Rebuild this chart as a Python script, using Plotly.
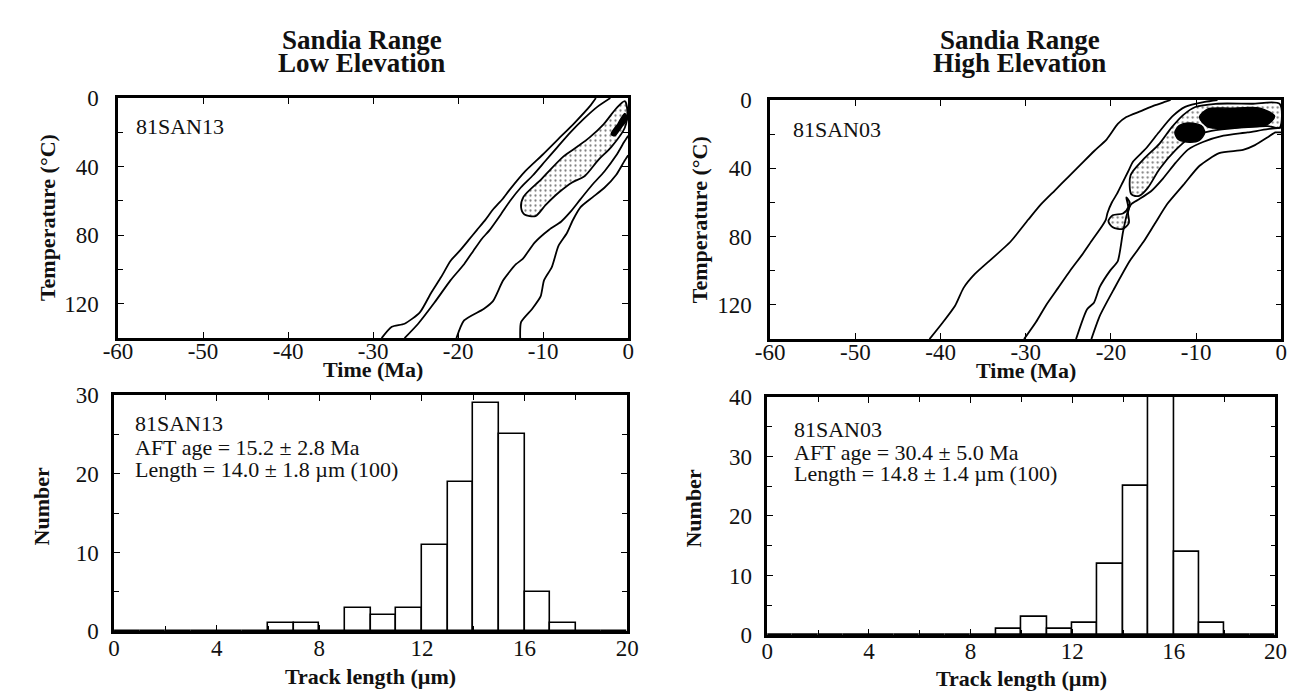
import plotly.graph_objects as go

# ---------------- data: 81SAN13 (low elevation) t-T envelopes ----------------
low_a_time = [-29.0, -27.8, -26.3, -24.5, -23.2, -22.0, -20.9, -19.8, -18.8, -17.8, -16.8, -15.9,
              -14.8, -14.0, -12.1, -10.1, -8.2, -6.3, -4.4, -3.8]
low_a_temp = [140, 133.4, 131.6, 125, 113.8, 104.4, 95, 89, 83, 77, 71, 65,
              59, 53.8, 42.6, 33.2, 23.8, 14.4, 4.1, 0]
low_b_time = [-26.3, -24.7, -22.8, -20.9, -19.3, -18.2, -17.2, -16.3, -15.0, -13.9, -12.6, -11.2,
              -9.8, -8.4, -6.8, -5.2, -3.6, -2.1]
low_b_temp = [140, 131.6, 119.4, 106.3, 96.9, 89, 82, 77, 68, 60, 52, 45,
              37, 29, 20, 12, 5, 0]
low_c_time = [-20.2, -19.3, -17.0, -15.9, -14.7, -13.2, -12.4, -11.0, -9.3, -7.9, -6.8, -5.6,
              -4.2, -2.8, -1.4, -0.5, 0.0]
low_c_temp = [140, 129.7, 123, 118.4, 106.3, 96.9, 93.8, 84.3, 76.8, 72.1, 66.4, 58.9,
              50.4, 42.8, 33.4, 25.8, 22]
low_d_time = [-12.7, -12.6, -11.3, -10.3, -9.9, -9.0, -8.2, -7.2, -6.5, -5.6, -4.2, -2.8,
              -1.4, -0.5, 0.0]
low_d_temp = [140, 130.7, 123, 115.7, 106.3, 98.8, 86.2, 78.7, 71.1, 63.6, 57.9, 52.3,
              44.7, 37.2, 33.4]
low_good_time = [-12.3, -10.2, -7.6, -6.0, -4.5, -2.9, -1.4, -0.4, -0.1, -0.4, -2.0, -3.5,
                 -5.1, -6.6, -8.1, -9.7, -10.9, -12.2, -12.6, -12.3]
low_good_temp = [57.5, 47.2, 34.0, 28.4, 22.8, 15.3, 6.0, 1.8, 7.5, 17.3, 28.6, 36.0,
                 45.4, 49.2, 54.8, 62.3, 68.8, 67.9, 63.6, 57.5]
low_best_time = [-2.0, -1.2, -0.4, -0.1, -0.8, -1.6, -2.0]
low_best_temp = [21, 15, 9, 12, 17, 22, 21]

# ---------------- data: 81SAN03 (high elevation) t-T envelopes ----------------
high_a_time = [-41.3, -39.7, -38.3, -37.3, -36.0, -34.0, -31.8, -29.7, -28.2, -26.6, -25.0, -23.6,
               -22.0, -20.5, -19.2, -18.2, -16.5, -14.8, -13.6, -13.0]
high_a_temp = [140, 130, 120.5, 110, 102, 93, 83, 70, 61, 53, 45, 38,
               30, 23, 14, 10, 6.5, 3, 1, 0]
high_b_time = [-30.2, -28.8, -27.6, -26.2, -24.8, -23.3, -22.2, -21.2, -20.6, -20.4, -19.9, -19.3,
               -18.6, -18.0, -17.4, -15.9, -14.4, -12.8, -11.3, -9.0, -7.5]
high_b_temp = [140, 130, 120, 110, 100, 90, 82, 75, 70, 66, 60, 55,
               48, 42, 36, 28.4, 19, 9.6, 4, 1.1, 0]
high_c_time = [-24.1, -22.8, -22.0, -21.3, -20.1, -19.2, -18.6, -18.1, -17.6, -16.7, -15.3, -13.9,
               -12.4, -11.0, -9.2, -6.8, -4.0, -1.6, 0.0]
high_c_temp = [140, 122.5, 118.7, 109.3, 99.9, 94.3, 77.6, 66.5, 60.9, 58.1, 53.4, 46.0,
               36.7, 29.2, 24.6, 20.9, 19.0, 17.1, 16.2]
high_d_time = [-22.3, -21.3, -19.7, -17.8, -16.2, -14.8, -13.4, -11.5, -9.6, -7.3, -4.5, -3.1,
               -1.6, -0.7, 0.0]
high_d_temp = [140, 126.3, 111.2, 94.3, 83.2, 72.0, 60.9, 49.7, 38.5, 31.1, 29.2, 26.4,
               21.8, 19.0, 19.0]
high_good_time = [-17.6, -17.7, -16.2, -14.3, -12.9, -11.5, -10.1, -7.7, -3.5, -0.2, -0.2, -1.6,
                  -4.9, -8.2, -10.6, -12.4, -14.3, -15.7, -16.7, -17.6]
high_good_temp = [55.3, 44.1, 34.8, 25.5, 16.2, 8.7, 4.1, 2.2, 2.2, 2.2, 16.2, 15.3,
                  16.2, 18.1, 21.8, 29.2, 40.4, 51.6, 56.2, 55.3]
high_drop_time = [-18.2, -18.0, -18.6, -19.8, -20.3, -19.8, -18.6, -17.9, -18.0, -17.8, -18.2]
high_drop_temp = [57, 63, 66.5, 67.5, 71, 74.5, 75.5, 72, 66, 60, 57]
high_best1_time = [-9.6, -8.6, -6.0, -2.5, -0.8, -1.7, -4.0, -8.6, -9.6]
high_best1_temp = [10, 5.2, 4.8, 4.8, 9.5, 14.5, 15.8, 15.8, 10]
high_best2_time = [-12.5, -12.0, -10.8, -9.4, -9.0, -9.6, -10.8, -12.1, -12.5]
high_best2_temp = [19, 15, 13.4, 15, 19, 23.5, 24.7, 23, 19]

# ---------------- data: track length histograms ----------------
bin_left = list(range(0, 20))
low_counts = [0, 0, 0, 0, 0, 0, 1, 1, 0, 3, 2, 3, 11, 19, 29, 25, 5, 1, 0, 0]
high_counts = [0, 0, 0, 0, 0, 0, 0, 0, 0, 1, 3, 1, 2, 12, 25, 40, 14, 2, 0, 0]

time_ticks = [-60, -50, -40, -30, -20, -10, 0]
time_labels = ["-60", "-50", "-40", "-30", "-20", "-10", "0"]
temp_ticks = [0, 40, 80, 120]
len_ticks = [0, 4, 8, 12, 16, 20]
low_num_ticks = [0, 10, 20, 30]
high_num_ticks = [0, 10, 20, 30, 40]

FONT = "Liberation Serif"
W, H = 1303, 695

fig = go.Figure()

def line(xs, ys, xa, ya, w=1.8):
    fig.add_trace(go.Scatter(x=xs, y=ys, mode="lines", xaxis=xa, yaxis=ya,
                             line=dict(color="black", width=w, shape="spline", smoothing=0.6),
                             showlegend=False, hoverinfo="skip"))

def stipple(xs, ys, xa, ya):
    fig.add_trace(go.Scatter(x=xs, y=ys, mode="lines", xaxis=xa, yaxis=ya, fill="toself",
                             fillcolor="white",
                             fillpattern=dict(shape=".", fgcolor="black", bgcolor="white",
                                              size=5, solidity=0.16),
                             line=dict(color="black", width=1.8, shape="spline", smoothing=0.8),
                             showlegend=False, hoverinfo="skip"))

def solid(xs, ys, xa, ya):
    fig.add_trace(go.Scatter(x=xs, y=ys, mode="lines", xaxis=xa, yaxis=ya, fill="toself",
                             fillcolor="black",
                             line=dict(color="black", width=1.5, shape="spline", smoothing=0.8),
                             showlegend=False, hoverinfo="skip"))

# Low elevation panel
stipple(low_good_time, low_good_temp, "x", "y")
solid(low_best_time, low_best_temp, "x", "y")
for xs, ys in [(low_a_time, low_a_temp), (low_b_time, low_b_temp),
               (low_c_time, low_c_temp), (low_d_time, low_d_temp)]:
    line(xs, ys, "x", "y")

# High elevation panel
stipple(high_good_time, high_good_temp, "x2", "y2")
stipple(high_drop_time, high_drop_temp, "x2", "y2")
solid(high_best1_time, high_best1_temp, "x2", "y2")
solid(high_best2_time, high_best2_temp, "x2", "y2")
for xs, ys in [(high_a_time, high_a_temp), (high_b_time, high_b_temp),
               (high_c_time, high_c_temp), (high_d_time, high_d_temp)]:
    line(xs, ys, "x2", "y2")

# Histograms
centers = [b + 0.5 for b in bin_left]
fig.add_trace(go.Bar(x=centers, y=low_counts, width=1, xaxis="x3", yaxis="y3",
                     marker=dict(color="white", line=dict(color="black", width=1.6)),
                     showlegend=False, hoverinfo="skip"))
fig.add_trace(go.Bar(x=centers, y=high_counts, width=1, xaxis="x4", yaxis="y4",
                     marker=dict(color="white", line=dict(color="black", width=1.6)),
                     showlegend=False, hoverinfo="skip"))

def px_x(a, b):
    return [a / W, b / W]

def px_y(top, bottom):
    return [1 - bottom / H, 1 - top / H]

tickfont = dict(family=FONT, size=23, color="#111")
common = dict(showline=True, linewidth=2.5, linecolor="black", mirror="allticks",
              ticks="inside", ticklen=6, tickwidth=1.3, tickcolor="black",
              showgrid=False, zeroline=False, tickfont=tickfont, fixedrange=True)
minor_style = dict(ticks="inside", ticklen=5, tickcolor="black")

fig.update_layout(
    width=W, height=H, margin=dict(l=0, r=0, t=0, b=0),
    paper_bgcolor="white", plot_bgcolor="white", bargap=0,
    xaxis=dict(domain=px_x(97, 618), range=[-60, 0], anchor="y", tickvals=time_ticks,
               ticktext=time_labels, ticklabelstandoff=-9, **common),
    yaxis=dict(domain=px_y(81, 330), range=[140, 0], anchor="x", tickvals=temp_ticks,
               minor=dict(tickvals=[20, 60, 100, 140], **minor_style),
               ticklabelstandoff=12, **common),
    xaxis2=dict(domain=px_x(763, 1285), range=[-60, 0], anchor="y2", tickvals=time_ticks,
                ticktext=time_labels, ticklabelstandoff=-9, **common),
    yaxis2=dict(domain=px_y(83, 331), range=[140, 0], anchor="x2", tickvals=temp_ticks,
                minor=dict(tickvals=[20, 60, 100, 140], **minor_style),
                ticklabelstandoff=11, **common),
    xaxis3=dict(domain=px_x(93, 617), range=[0, 20], anchor="y3", tickvals=len_ticks,
                minor=dict(tickvals=[2, 6, 10, 14, 18], **minor_style),
                ticklabelstandoff=-6, **common),
    yaxis3=dict(domain=px_y(389, 634), range=[0, 30], anchor="x3", tickvals=low_num_ticks,
                minor=dict(tickvals=[5, 15, 25], **minor_style),
                ticklabelstandoff=8, **common),
    xaxis4=dict(domain=px_x(760, 1279), range=[0, 20], anchor="y4", tickvals=len_ticks,
                minor=dict(tickvals=[2, 6, 10, 14, 18], **minor_style),
                ticklabelstandoff=-6, **common),
    yaxis4=dict(domain=px_y(391, 638), range=[0, 40], anchor="x4", tickvals=high_num_ticks,
                minor=dict(tickvals=[5, 15, 25, 35], **minor_style),
                ticklabelstandoff=8, **common),
)

def ptext(text, x, y, size=22, bold=False, angle=0, xanchor="center"):
    t = f"<b>{text}</b>" if bold else text
    fig.add_annotation(text=t, x=x / W, y=1 - y / H, xref="paper", yref="paper",
                       showarrow=False, textangle=angle, xanchor=xanchor, yanchor="middle",
                       font=dict(family=FONT, size=size, color="#111"))

def dtext(text, x, y, xa, ya):
    fig.add_annotation(text=text, x=x, y=y, xref=xa, yref=ya, showarrow=False,
                       xanchor="left", yanchor="middle",
                       font=dict(family=FONT, size=22, color="#111"))

# Titles
ptext("Sandia Range", 346, 21, size=27, bold=True)
ptext("Low Elevation", 346, 45, size=27, bold=True)
ptext("Sandia Range", 1018, 21, size=27, bold=True)
ptext("High Elevation", 1018, 45, size=27, bold=True)

# Axis titles
ptext("Time (Ma)", 357, 363, bold=True)
ptext("Time (Ma)", 1024, 364, bold=True)
ptext("Temperature (°C)", 25, 205, bold=True, angle=-90)
ptext("Temperature (°C)", 691, 207, bold=True, angle=-90)
ptext("Track length (µm)", 355, 681, bold=True)
ptext("Track length (µm)", 1020, 683, bold=True)
ptext("Number", 19, 505, bold=True, angle=-90)
ptext("Number", 685, 507, bold=True, angle=-90)

# Sample labels
dtext("81SAN13", -58.1, 16.3, "x", "y")
dtext("81SAN03", -57.6, 17.1, "x2", "y2")
dtext("81SAN13", 0.75, 26.4, "x3", "y3")
dtext("AFT age = 15.2 ± 2.8 Ma", 0.75, 23.3, "x3", "y3")
dtext("Length = 14.0 ± 1.8 µm (100)", 0.75, 20.5, "x3", "y3")
dtext("81SAN03", 0.96, 34.5, "x4", "y4")
dtext("AFT age = 30.4 ± 5.0 Ma", 0.96, 30.7, "x4", "y4")
dtext("Length = 14.8 ± 1.4 µm (100)", 0.96, 27.2, "x4", "y4")

fig.write_html("out.html")
